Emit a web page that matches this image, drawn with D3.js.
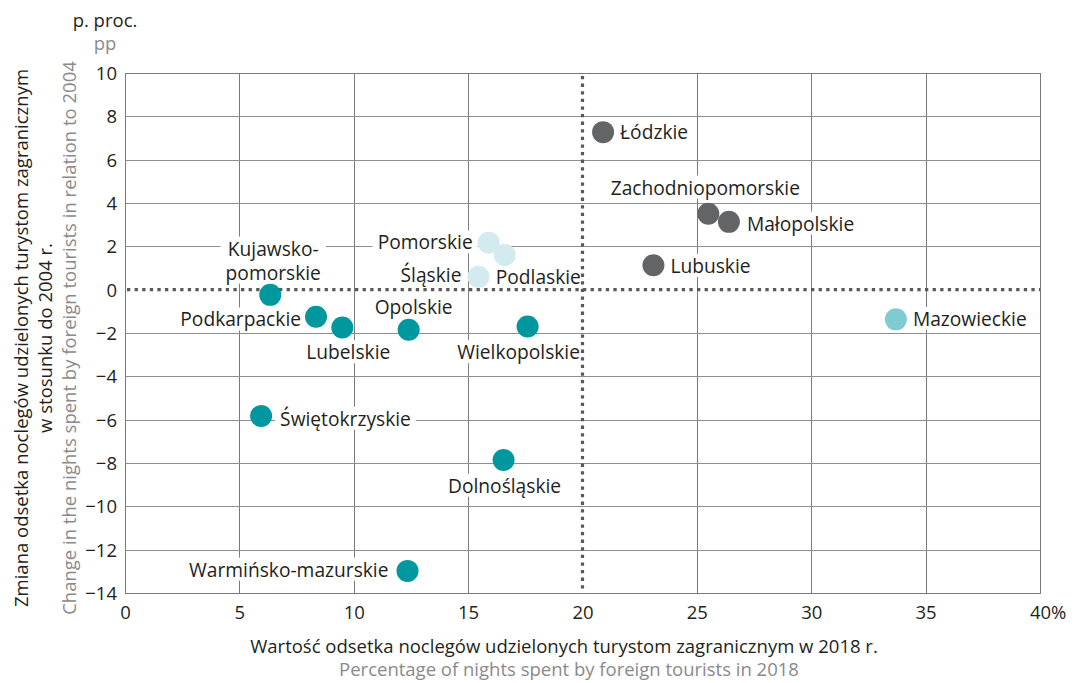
<!DOCTYPE html>
<html>
<head>
<meta charset="utf-8">
<script src="https://cdn.jsdelivr.net/npm/d3@7/dist/d3.min.js"></script>
<style>
  html, body { margin: 0; padding: 0; background: #fff; }
  svg { display: block; font-family: "Open Sans", "Noto Sans", sans-serif; }
</style>
</head>
<body>
<svg id="chart" width="1085" height="683"></svg>
<script>
// Voivodeships: share of nights spent by foreign tourists in 2018 (%)
// and change of that share vs 2004 (percentage points)
const regions = [
  "Łódzkie", "Zachodniopomorskie", "Małopolskie", "Lubuskie", "Mazowieckie",
  "Pomorskie", "Podlaskie", "Śląskie",
  "Kujawsko-pomorskie", "Podkarpackie", "Lubelskie", "Opolskie", "Wielkopolskie",
  "Świętokrzyskie", "Dolnośląskie", "Warmińsko-mazurskie"
];
const share2018 = [20.9, 25.5, 26.4, 23.1, 33.7, 15.9, 16.6, 15.45, 6.35, 8.35, 9.5, 12.4, 17.6, 5.95, 16.55, 12.35];
const change2004 = [7.27, 3.5, 3.13, 1.13, -1.37, 2.17, 1.6, 0.6, -0.24, -1.25, -1.75, -1.85, -1.7, -5.83, -7.86, -12.98];
const groups = [
  "high", "high", "high", "high", "mid",
  "light", "light", "light",
  "low", "low", "low", "low", "low",
  "low", "low", "low"
];

const xTicks = [0, 5, 10, 15, 20, 25, 30, 35, 40];
const yTicks = [-14, -12, -10, -8, -6, -4, -2, 0, 2, 4, 6, 8, 10];
const xThreshold = 20;
const yThreshold = 0;

const groupColor = {
  high: "#636466",
  mid: "#80cbd1",
  light: "#d3eaee",
  low: "#00979f"
};

// Label placement relative to each point: [dx, dy, anchor, text with line breaks]
const labelPlacement = {
  "Łódzkie": [17, 0, "start"],
  "Zachodniopomorskie": [-3, -26, "middle"],
  "Małopolskie": [18, 2, "start"],
  "Lubuskie": [17, 1, "start"],
  "Mazowieckie": [17, 0, "start"],
  "Pomorskie": [-16, 0, "end"],
  "Podlaskie": [-9, 22, "start"],
  "Śląskie": [-17, -1, "end"],
  "Kujawsko-pomorskie": [3, -46, "middle", "Kujawsko-\npomorskie"],
  "Podkarpackie": [-15, 3, "end"],
  "Lubelskie": [6, 25, "middle"],
  "Opolskie": [5, -22, "middle"],
  "Wielkopolskie": [-9, 26, "middle"],
  "Świętokrzyskie": [19, 3, "start"],
  "Dolnośląskie": [1, 26, "middle"],
  "Warmińsko-mazurskie": [-19, -1, "end"]
};

const svg = d3.select("#chart");
const plotL = 125, plotR = 1040, plotT = 73, plotB = 593;

const x = d3.scaleLinear().domain([0, 40]).range([plotL, plotR]);
const y = d3.scaleLinear().domain([-14, 10]).range([plotB, plotT]);

const fontSize = 18.5;
const labelSize = 19.2;
const lineStep = 24;
const ink = "#231f20";
const inkGrey = "#8a8a8c";

// Grid
const grid = svg.append("g").attr("shape-rendering", "crispEdges");
grid.selectAll("line.v").data(xTicks.filter(d => d > 0 && d < 40 && d !== xThreshold))
  .join("line").attr("class", "v")
  .attr("x1", d => Math.round(x(d)) + 0.5).attr("x2", d => Math.round(x(d)) + 0.5)
  .attr("y1", plotT).attr("y2", plotB)
  .attr("stroke", "#7b7b7b").attr("stroke-width", 1);
grid.selectAll("line.h").data(yTicks.filter(d => d > -14 && d < 10 && d !== yThreshold))
  .join("line").attr("class", "h")
  .attr("x1", plotL).attr("x2", plotR)
  .attr("y1", d => Math.round(y(d)) + 0.5).attr("y2", d => Math.round(y(d)) + 0.5)
  .attr("stroke", "#8e8e8e").attr("stroke-width", 1);

// Frame
grid.append("rect")
  .attr("x", plotL + 0.5).attr("y", plotT + 0.5)
  .attr("width", plotR - plotL).attr("height", plotB - plotT)
  .attr("fill", "none").attr("stroke", "#7b7b7b").attr("stroke-width", 1);

// Axes (tick labels only)
const xAxis = svg.append("g")
  .attr("transform", `translate(0,${plotB})`)
  .call(d3.axisBottom(x).tickValues(xTicks).tickSize(0).tickPadding(20).tickFormat(d3.format("d")));
xAxis.select(".domain").remove();
xAxis.selectAll("text").attr("font-size", fontSize).attr("fill", ink)
  .attr("font-family", "Open Sans, sans-serif").attr("y", 20).attr("dy", "0.35em");
// percent sign trailing the last tick label
const lastTick = xAxis.selectAll(".tick").filter(d => d === 40);
const lw = lastTick.select("text").node().getComputedTextLength();
lastTick.append("text")
  .attr("x", lw / 2).attr("y", 20).attr("dy", "0.35em")
  .attr("text-anchor", "start").attr("fill", ink)
  .attr("font-size", fontSize).attr("font-family", "Open Sans, sans-serif")
  .text("%");

const yAxis = svg.append("g")
  .attr("transform", `translate(${plotL},0)`)
  .call(d3.axisLeft(y).tickValues(yTicks).tickSize(0).tickPadding(8)
    .tickFormat(d => d < 0 ? "\u2212" + Math.abs(d) : String(d)));
yAxis.select(".domain").remove();
yAxis.selectAll("text").attr("font-size", fontSize).attr("fill", ink)
  .attr("font-family", "Open Sans, sans-serif").attr("dy", "0.35em");

// Unit labels
svg.append("text").attr("x", 105).attr("y", 21).attr("dy", "0.35em")
  .attr("text-anchor", "middle").attr("font-size", fontSize).attr("fill", ink)
  .text("p. proc.");
svg.append("text").attr("x", 105).attr("y", 44).attr("dy", "0.35em")
  .attr("text-anchor", "middle").attr("font-size", fontSize).attr("fill", inkGrey)
  .text("pp");

// Axis titles
svg.append("text").attr("x", 564).attr("y", 647).attr("dy", "0.35em")
  .attr("text-anchor", "middle").attr("font-size", fontSize).attr("fill", ink)
  .text("Wartość odsetka noclegów udzielonych turystom zagranicznym w 2018 r.");
svg.append("text").attr("x", 569).attr("y", 670).attr("dy", "0.35em")
  .attr("text-anchor", "middle").attr("font-size", fontSize).attr("fill", inkGrey)
  .text("Percentage of nights spent by foreign tourists in 2018");

const yTitle = svg.append("g").attr("transform", "translate(0,338) rotate(-90)");
yTitle.append("text").attr("x", 0).attr("y", 22).attr("dy", "0.35em")
  .attr("text-anchor", "middle").attr("font-size", fontSize).attr("fill", ink)
  .text("Zmiana odsetka noclegów udzielonych turystom zagranicznym");
yTitle.append("text").attr("x", 0).attr("y", 46).attr("dy", "0.35em")
  .attr("text-anchor", "middle").attr("font-size", fontSize).attr("fill", ink)
  .text("w stosunku do 2004 r.");
yTitle.append("text").attr("x", 0).attr("y", 70).attr("dy", "0.35em")
  .attr("text-anchor", "middle").attr("font-size", fontSize).attr("fill", inkGrey)
  .text("Change in the nights spent by foreign tourists in relation to 2004");

// Point records
const points = regions.map((name, i) => ({
  name, sx: share2018[i], cy: change2004[i], group: groups[i]
}));

// Labels with white backing that masks the grid
const labelLayer = svg.append("g");
points.forEach(p => {
  const pl = labelPlacement[p.name];
  const lines = (pl[3] || p.name).split("\n");
  const g = labelLayer.append("g")
    .attr("transform", `translate(${x(p.sx) + pl[0]},${y(p.cy) + pl[1]})`);
  lines.forEach((ln, k) => {
    g.append("text")
      .attr("text-anchor", pl[2]).attr("font-size", labelSize).attr("fill", ink)
      .attr("x", 0).attr("y", k * lineStep).attr("dy", "0.35em").text(ln);
  });
  const bb = g.node().getBBox();
  g.insert("rect", "text")
    .attr("x", bb.x - 5).attr("y", bb.y + 2)
    .attr("width", bb.width + 10).attr("height", bb.height - 4)
    .attr("fill", "#fff");
});

// Threshold lines
svg.append("line")
  .attr("x1", plotL + 2).attr("x2", plotR)
  .attr("y1", y(yThreshold)).attr("y2", y(yThreshold))
  .attr("stroke", "#58595b").attr("stroke-width", 3.2).attr("stroke-dasharray", "3.3 4.3");
svg.append("line")
  .attr("x1", x(xThreshold)).attr("x2", x(xThreshold))
  .attr("y1", plotT + 3).attr("y2", plotB - 1)
  .attr("stroke", "#58595b").attr("stroke-width", 3.2).attr("stroke-dasharray", "3.3 4.3");

// Points
svg.append("g").selectAll("circle").data(points).join("circle")
  .attr("cx", d => x(d.sx)).attr("cy", d => y(d.cy)).attr("r", 11)
  .attr("fill", d => groupColor[d.group]);
</script>
</body>
</html>
